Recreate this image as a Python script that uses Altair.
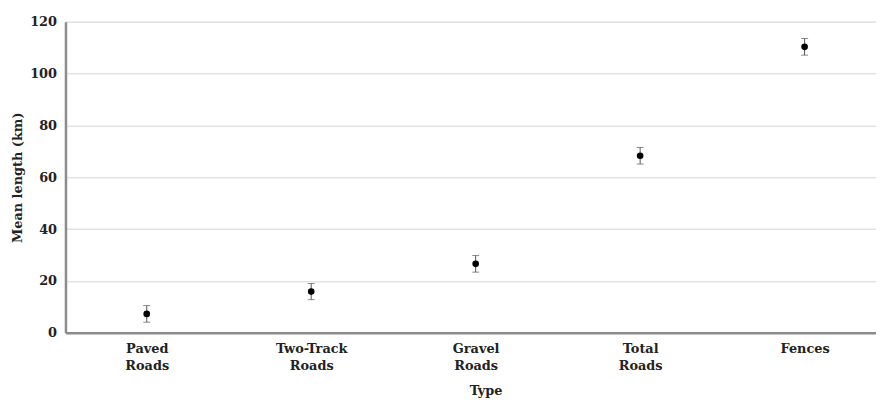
import altair as alt
import pandas as pd

types = ["Paved Roads", "Two-Track Roads", "Gravel Roads", "Total Roads", "Fences"]
means = [7.3, 15.9, 26.6, 68.3, 110.3]
errors = [3.2, 3.1, 3.2, 3.2, 3.2]

df = pd.DataFrame({
    "idx": list(range(len(types))),
    "type": types,
    "mean": means,
    "lo": [m - e for m, e in zip(means, errors)],
    "hi": [m + e for m, e in zip(means, errors)],
})

FONT = "DejaVu Serif"
W, H = 818, 314
FS = 13

label_array = "[" + ",".join("'" + t + "'" for t in types) + "]"

x = alt.X(
    "idx:Q",
    scale=alt.Scale(domain=[-0.494, 4.434], nice=False, zero=False),
    axis=alt.Axis(
        title="Type",
        values=list(range(len(types))),
        labelExpr="split(" + label_array + "[datum.value], ' ')",
        labelAngle=0,
        labelFont=FONT,
        labelFontWeight="bold",
        labelFontSize=FS,
        labelColor="#222222",
        labelPadding=10,
        labelLineHeight=17,
        labelBaseline="top",
        ticks=False,
        domainColor="#8c8c8c",
        domainWidth=2.5,
        titleFont=FONT,
        titleFontWeight="bold",
        titleFontSize=FS,
        titleColor="#222222",
        titlePadding=12,
        titleX=424,
        grid=False,
    ),
)

y_scale = alt.Scale(domain=[0, 120], nice=False)
y_axis = alt.Axis(
    title="Mean length (km)",
    values=[0, 20, 40, 60, 80, 100, 120],
    labelFont=FONT,
    labelFontWeight="bold",
    labelFontSize=FS,
    labelColor="#222222",
    labelPadding=9,
    ticks=False,
    domainColor="#8c8c8c",
    domainWidth=2.5,
    gridColor="#e3e3e3",
    gridWidth=1.5,
    titleFont=FONT,
    titleFontWeight="bold",
    titleFontSize=FS,
    titleColor="#222222",
    titlePadding=5,
)

base = alt.Chart(df)

rules = base.mark_rule(color="#555555", strokeWidth=1).encode(
    x=x,
    y=alt.Y("lo:Q", scale=y_scale, axis=y_axis),
    y2="hi:Q",
)
caps_hi = base.mark_tick(color="#555555", thickness=1, size=7, orient="horizontal").encode(
    x="idx:Q", y="hi:Q"
)
caps_lo = base.mark_tick(color="#555555", thickness=1, size=7, orient="horizontal").encode(
    x="idx:Q", y="lo:Q"
)
points = base.mark_point(filled=True, color="#000000", size=45, opacity=1, shape="circle").encode(
    x="idx:Q", y="mean:Q"
)

chart = alt.layer(rules, caps_hi, caps_lo, points).properties(
    width=W,
    height=H,
    padding={"left": 58, "top": 12, "right": 0, "bottom": 67},
    autosize=alt.AutoSizeParams(type="none"),
).configure_view(stroke=None).configure(background="white")

chart.save("out.html", embed_options={"renderer": "svg", "actions": False})
